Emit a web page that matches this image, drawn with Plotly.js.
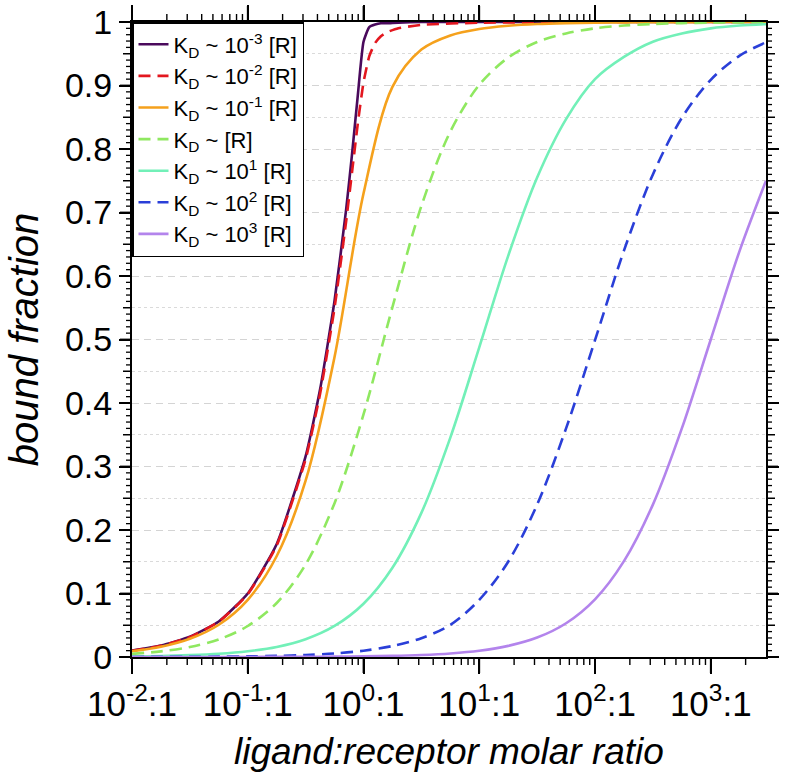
<!DOCTYPE html>
<html>
<head>
<meta charset="utf-8">
<script src="https://cdn.plot.ly/plotly-3.0.1.min.js"></script>
<style>
  html, body { margin: 0; padding: 0; background: #fff; }
  #chart { width: 786px; height: 781px; }
  .modebar-container { display: none !important; }
  .draglayer, .drag { display: none !important; }
</style>
</head>
<body>
<div id="chart"></div>
<script>
// ligand:receptor molar ratio samples
var ratioFine = [0.01, 0.0178, 0.0316, 0.0562, 0.1, 0.178, 0.316, 0.422, 0.562, 0.708, 0.794, 0.891,
  1, 1.122, 1.259, 1.413, 1.585, 2, 3.16, 10, 100, 1000, 3000];
var ratioCoarse = [0.01, 0.0178, 0.0316, 0.0562, 0.1, 0.178, 0.316, 0.562, 1, 1.778, 3.162, 5.623,
  10, 17.78, 31.62, 56.23, 100, 177.8, 316.2, 562.3, 1000, 1778, 3000];

// bound fraction
var boundKd1em3 = [0.010, 0.018, 0.032, 0.056, 0.100, 0.178, 0.316, 0.422, 0.561, 0.705, 0.790, 0.883,
  0.969, 0.992, 0.996, 0.998, 0.998, 0.999, 1, 1, 1, 1, 1];
var boundKd1em2 = [0.0099, 0.0176, 0.0313, 0.0556, 0.0989, 0.1759, 0.3115, 0.4149, 0.5498, 0.6862, 0.762, 0.8389,
  0.9049, 0.9462, 0.9669, 0.9776, 0.9837, 0.9902, 0.9954, 0.9989, 0.9999, 1, 1];
var boundKd1em1 = [0.0091, 0.0162, 0.0287, 0.0508, 0.0901, 0.1591, 0.2776, 0.4725, 0.7298, 0.8979, 0.9566, 0.9789,
  0.989, 0.994, 0.9968, 0.9982, 0.999, 0.9994, 0.9997, 0.9998, 0.9999, 1, 1];
var boundKd1 = [0.005, 0.0089, 0.0157, 0.0277, 0.0488, 0.085, 0.1456, 0.2423, 0.382, 0.551, 0.7103, 0.8275,
  0.901, 0.944, 0.9686, 0.982, 0.990, 0.9944, 0.9968, 0.9982, 0.999, 0.9994, 0.9997];
var boundKd1e1 = [0.0009, 0.0016, 0.0029, 0.0051, 0.0091, 0.0159, 0.028, 0.0489, 0.0839, 0.1406, 0.227, 0.3455,
  0.4875, 0.6317, 0.755, 0.847, 0.910, 0.945, 0.969, 0.982, 0.990, 0.9944, 0.9967];
var boundKd1e2 = [0.0001, 0.0002, 0.0003, 0.0006, 0.001, 0.0018, 0.0031, 0.0055, 0.0099, 0.0173, 0.0296, 0.0506,
  0.090, 0.15, 0.24, 0.36, 0.499, 0.64, 0.76, 0.849, 0.909, 0.947, 0.968];
var boundKd1e3 = [0.00001, 0.00002, 0.00003, 0.00006, 0.0001, 0.00018, 0.0003, 0.0006, 0.001, 0.0018, 0.0032, 0.0056,
  0.0099, 0.0175, 0.0306, 0.0532, 0.0909, 0.151, 0.240, 0.360, 0.5, 0.64, 0.75];

var seriesNames = [
  'K<sub>D</sub> ~ 10<sup>-3</sup> [R]',
  'K<sub>D</sub> ~ 10<sup>-2</sup> [R]',
  'K<sub>D</sub> ~ 10<sup>-1</sup> [R]',
  'K<sub>D</sub> ~ [R]',
  'K<sub>D</sub> ~ 10<sup>1</sup> [R]',
  'K<sub>D</sub> ~ 10<sup>2</sup> [R]',
  'K<sub>D</sub> ~ 10<sup>3</sup> [R]'
];
var seriesColors = ['#4a0a5c', '#e3171f', '#f5a11c', '#8fe860', '#72f0b8', '#2a3fd8', '#b384ec'];
var seriesDash = ['solid', 'dash', 'solid', 'dash', 'solid', 'dash', 'solid'];

var xTickVals = [0.01, 0.1, 1, 10, 100, 1000];
var xTickText = ['10<sup>-2</sup>:1', '10<sup>-1</sup>:1', '10<sup>0</sup>:1',
  '10<sup>1</sup>:1', '10<sup>2</sup>:1', '10<sup>3</sup>:1'];
var xMax = 3000;

var xs = [ratioFine, ratioFine, ratioCoarse, ratioCoarse, ratioCoarse, ratioCoarse, ratioCoarse];
var ys = [boundKd1em3, boundKd1em2, boundKd1em1, boundKd1, boundKd1e1, boundKd1e2, boundKd1e3];

var data = ys.map(function(y, i) {
  return {
    name: seriesNames[i],
    legendgroup: 'g' + i,
    x: xs[i],
    y: y,
    mode: 'lines',
    type: 'scatter',
    line: {
      color: seriesColors[i],
      width: 2.6,
      dash: seriesDash[i] == 'dash' ? '12px,7px' : 'solid',
      shape: 'spline',
      smoothing: i < 2 ? 0.5 : 0.9,
    },
  };
});

// invisible trace carrying the dotted 0.05 grid on an overlay axis
data.push({
  x: [0.01], y: [0], yaxis: 'y2', mode: 'markers',
  marker: {opacity: 0}, showlegend: false, hoverinfo: 'skip',
});

// tick marks on all four sides, placed through the axes (outside the frame)
var shapes = [];
function tick(axis, v, len, w) {
  var line = {color: '#000', width: w};
  if (axis == 'y') {
    shapes.push({type: 'line', xref: 'paper', xsizemode: 'pixel', xanchor: 0, x0: -len - 1, x1: 0, yref: 'y', y0: v, y1: v, line: line});
    shapes.push({type: 'line', xref: 'paper', xsizemode: 'pixel', xanchor: 1, x0: 0, x1: len + 1, yref: 'y', y0: v, y1: v, line: line});
  } else {
    shapes.push({type: 'line', yref: 'paper', ysizemode: 'pixel', yanchor: 0, y0: -len - 1, y1: 0, xref: 'x', x0: v, x1: v, line: line});
    shapes.push({type: 'line', yref: 'paper', ysizemode: 'pixel', yanchor: 1, y0: 0, y1: len + 1, xref: 'x', x0: v, x1: v, line: line});
  }
}
for (var k = 1; k < 100; k++) {
  if (k % 10 == 0) tick('y', k / 100, 11, 1.8);
  else if (k % 5 == 0) tick('y', k / 100, 8, 1.5);
  else tick('y', k / 100, 5, 1.3);
}
xTickVals.forEach(function(v) {
  if (v > 0.01) tick('x', v, 15, 1.8);
  for (var d = 2; d <= 9; d++) {
    if (v * d < xMax) tick('x', v * d, 7, 1.4);
  }
});

var font = '"Liberation Sans", Arial, sans-serif';

var layout = {
  width: 786,
  height: 781,
  margin: {l: 132, r: 20, t: 22, b: 124},
  paper_bgcolor: '#fff',
  plot_bgcolor: '#fff',
  showlegend: true,
  legend: {
    x: 0, y: 1, xanchor: 'left', yanchor: 'top',
    bgcolor: '#fff',
    bordercolor: '#000',
    borderwidth: 1.5,
    font: {family: font, size: 22, color: '#000'},
    tracegroupgap: 16,
    traceorder: 'normal',
  },
  shapes: shapes,
  xaxis: {
    type: 'log',
    range: [-2, Math.log10(xMax)],
    tickmode: 'array',
    tickvals: xTickVals,
    ticktext: xTickText,
    ticks: 'outside',
    ticklen: 15,
    tickwidth: 1.8,
    tickcolor: '#000',
    showline: true,
    linecolor: '#000',
    linewidth: 2,
    mirror: 'ticks',
    showgrid: false,
    zeroline: false,
    tickfont: {family: font, size: 35, color: '#000'},
    title: {
      text: '<i>ligand:receptor molar ratio</i>',
      font: {family: font, size: 37, color: '#000'},
      standoff: 16,
    },
  },
  yaxis: {
    range: [0, 1],
    dtick: 0.1,
    tick0: 0,
    ticks: 'outside',
    ticklen: 11,
    tickwidth: 1.8,
    tickcolor: '#000',
    showline: true,
    linecolor: '#000',
    linewidth: 2,
    mirror: 'ticks',
    showgrid: true,
    gridcolor: '#d4d4d4',
    gridwidth: 1.3,
    griddash: '7px,5px',
    zeroline: false,
    tickfont: {family: font, size: 34, color: '#000'},
    title: {
      text: '<i>bound fraction</i>',
      font: {family: font, size: 40, color: '#000'},
      standoff: 14,
    },
  },
  yaxis2: {
    overlaying: 'y',
    side: 'left',
    range: [0, 1],
    tick0: 0.05,
    dtick: 0.1,
    ticks: '',
    showline: false,
    showticklabels: false,
    showgrid: true,
    gridcolor: '#dadada',
    gridwidth: 1.3,
    griddash: 'dot',
    zeroline: false,
  },
};

Plotly.newPlot('chart', data, layout);
</script>
</body>
</html>
